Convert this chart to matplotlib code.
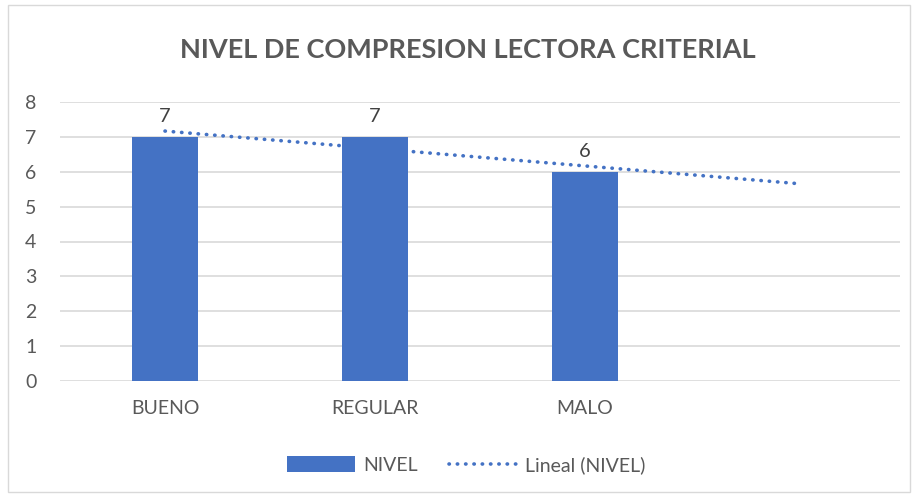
import matplotlib
matplotlib.use("Agg")
import matplotlib.pyplot as plt
import numpy as np
from matplotlib.lines import Line2D
from matplotlib.patches import Patch, Rectangle

categories = ["BUENO", "REGULAR", "MALO", ""]
values = [7, 7, 6]
series_name = "NIVEL"
trend_name = "Lineal (NIVEL)"
title = "NIVEL DE COMPRESION LECTORA CRITERIAL"

plt.rcParams['font.family'] = ['Lato', 'DejaVu Sans']
grey = "#595959"
blue = "#4472C4"

fig = plt.figure(figsize=(9.15, 4.97), dpi=100)
fig.patches.append(Rectangle((8/915, 5/497), 902/915, 487/497, transform=fig.transFigure,
                             fill=False, edgecolor="#d9d9d9", linewidth=1))
ax = fig.add_axes([60/915, 1-381/497, 840/915, (381-102)/497])

x = np.arange(len(categories))
xv = np.arange(len(values))
bars = ax.bar(xv, values, width=0.315, color=blue, zorder=2, label=series_name)
for xi, v in zip(xv, values):
    ax.text(xi, v + 0.35, str(v), ha="center", va="bottom", fontsize=14.5, color="#404040")

# linear trend fitted on category index 1..n, extended one period forward
coef = np.polyfit(xv + 1, values, 1)
xt = np.arange(1, len(categories) + 1)
yt = np.polyval(coef, xt)
ax.plot(xt - 1, yt, linestyle=(0, (0.1, 2.2)), dash_capstyle="round", color=blue,
        linewidth=2.6, zorder=3, label=trend_name)

ax.set_xlim(-0.5, len(categories) - 0.5)
ax.set_ylim(0, 8)
ax.set_yticks(range(0, 9))
ax.set_xticks(x)
ax.set_xticklabels(categories)
ax.yaxis.grid(True, color="#d9d9d9", linewidth=1.2, zorder=0)
ax.set_axisbelow(True)
for s in ax.spines.values():
    s.set_visible(False)
ax.tick_params(axis="both", length=0, labelsize=14, labelcolor=grey)
ax.tick_params(axis="x", pad=14)
ax.tick_params(axis="y", pad=21)
for lab in ax.get_yticklabels():
    lab.set_horizontalalignment("center")

fig.text(468/915, 1-50/497, title, ha="center", va="center", fontsize=19.5,
         fontweight="bold", color=grey)

handles = [Patch(facecolor=blue, label=series_name),
           Line2D([0], [0], linestyle=(0, (0.1, 2.2)), dash_capstyle="round", color=blue,
                  linewidth=2.6, label=trend_name)]
fig.legend(handles=handles, loc="center", bbox_to_anchor=(466/915, 1-465/497), ncol=2,
           frameon=False, fontsize=14, labelcolor=grey, handlelength=3.5, handleheight=0.9,
           columnspacing=1.6, handletextpad=0.4)

fig.savefig("out.png", dpi=100)
